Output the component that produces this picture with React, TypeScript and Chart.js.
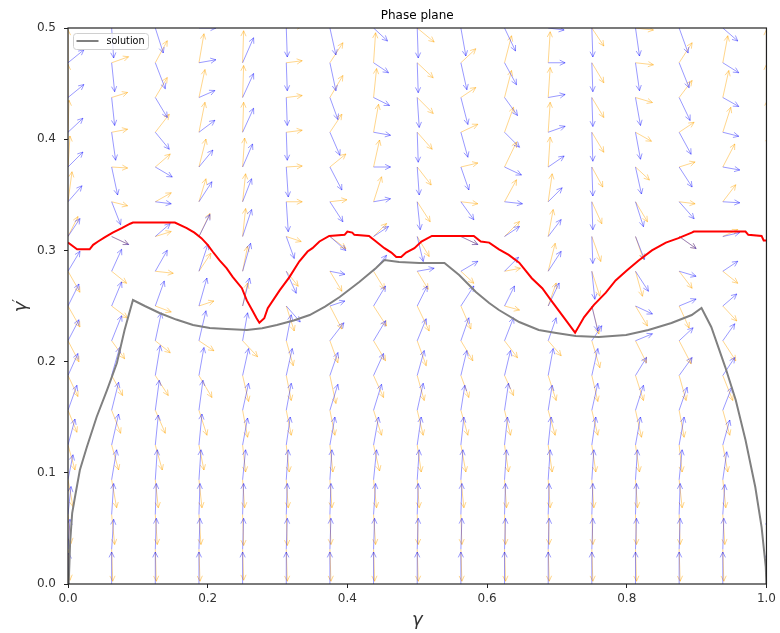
import React, { useEffect, useRef } from "react";
import { Chart, registerables } from "chart.js";
Chart.register(...registerables);

const xTicks = [0, 0.2, 0.4, 0.6, 0.8, 1.0];
const yTicks = [0, 0.1, 0.2, 0.3, 0.4, 0.5];

const gridGamma = [0, 0.0625, 0.125, 0.1875, 0.25, 0.3125, 0.375, 0.4375, 0.5, 0.5625, 0.625, 0.6875, 0.75, 0.8125, 0.875, 0.9375, 1];
const gridRate = [0, 0.03125, 0.0625, 0.09375, 0.125, 0.15625, 0.1875, 0.21875, 0.25, 0.28125, 0.3125, 0.34375, 0.375, 0.40625, 0.4375, 0.46875, 0.5];

// quiver components per column (pairs u,v for rows bottom->top)
const blueField = [
  [1,31, 2,30, 3,28, 5,25, 7,26, 9,25, 10,22, 11,21, 11,22, 12,20, 12,18, 14,16, 15,15, 15,14, 16,13, 16,13, 16,13],
  [0,32, 2,30, 2,31, 5,30, 7,31, 7,28, 8,28, 10,25, 10,24, 10,22, 17,-8, 9,-23, 6,-28, 4,-28, 3,-28, 3,-29, 2,-30],
  [0,32, 1,31, 1,31, 2,30, 3,30, 4,30, 5,30, 6,28, 9,25, 12,21, 15,13, 16,-2, 17,-10, 14,-17, 12,-20, 10,-26, 8,-25],
  [0,32, 1,31, 1,31, 2,30, 3,31, 4,30, 5,28, 7,30, 8,28, 9,27, 11,22, 13,20, 14,17, 16,12, 16,7, 17,3, 17,0],
  [0,32, 1,31, 1,31, 3,30, 5,27, 6,27, 6,27, 5,28, 7,28, 8,28, 9,27, 9,23, 10,23, 11,24, 11,24, 11,25, 11,25],
  [0,32, 1,31, 1,31, 2,30, 4,28, 5,27, 6,27, 5,26, 14,-16, 10,-22, 8,-22, 2,-30, 2,-30, 1,-28, 1,-28, 1,-28, 1,-29],
  [0,32, 1,31, 1,31, 2,30, 5,28, 8,26, 8,23, 14,18, 15,5, 15,-3, 16,-14, 13,-20, 12,-23, 10,-23, 8,-22, 6,-28, 6,-27],
  [0,32, 1,31, 2,31, 3,30, 5,28, 8,26, 10,22, 12,20, 12,20, 13,16, 15,10, 17,3, 17,0, 17,-3, 16,-8, 15,-10, 14,-13],
  [0,32, 1,31, 1,31, 2,30, 4,28, 6,27, 7,25, 9,22, 10,20, 17,3, 6,-25, 3,-28, 2,-28, 1,-30, 2,-30, 1,-30, 1,-30],
  [0,32, 1,31, 1,31, 2,30, 3,28, 4,25, 6,25, 8,23, 13,20, 17,10, 17,-8, 13,-18, 8,-23, 7,-25, 7,-27, 6,-27, 5,-28],
  [0,32, 1,31, 1,31, 2,30, 3,28, 4,27, 6,25, 9,23, 10,20, 14,14, 15,10, 18,-2, 17,-8, 15,-15, 13,-18, 12,-22, 11,-23],
  [0,32, 1,31, 1,31, 2,30, 3,28, 4,25, 5,27, 8,23, 11,23, 13,20, 13,17, 14,14, 16,11, 17,6, 17,3, 17,0, 16,-2],
  [0,32, 1,31, 1,31, 2,30, 4,28, 6,27, 6,27, 10,15, 6,-25, 3,-28, 1,-27, 1,-28, 1,-29, 1,-29, 1,-29, 1,-29, 1,-29],
  [0,32, 1,31, 1,31, 2,30, 5,28, 8,25, 11,18, 17,7, 17,-8, 13,-20, 9,-23, 8,-25, 6,-27, 5,-27, 5,-28, 4,-28, 4,-28],
  [0,32, 1,31, 1,31, 3,30, 5,28, 8,23, 13,18, 14,13, 17,7, 17,-5, 17,-12, 15,-17, 13,-20, 12,-22, 11,-23, 10,-25, 9,-25],
  [0,32, 1,31, 2,30, 4,28, 7,25, 9,23, 12,18, 12,17, 14,12, 15,10, 17,4, 17,-1, 17,-3, 16,-4, 16,-9, 16,-10, 15,-13],
  [1,31, 2,30, 3,28, 5,25, 7,26, 9,25, 10,22, 11,21, 11,22, 12,20, 12,18, 14,16, 15,15, 15,14, 16,13, 16,13, 16,13],
];

const orangeField = [
  [0,-32, 2,-31, 3,-29, 5,-27, 7,-25, 9,-22, 10,-21, 11,-21, 12,-21, 12,-21, 10,20, 4,30, 2,31, 1,32, 0,33, 0,33, 0,33],
  [0,-32, 1,-32, 3,-30, 5,-28, 7,-25, 9,-23, 11,-20, 13,-18, 16,-12, 15,-12, 17,-8, 16,-4, 16,-1, 16,3, 16,5, 17,6, 17,6],
  [0,-32, 1,-32, 2,-30, 3,-28, 7,-25, 10,-23, 13,-20, 15,-12, 16,-6, 18,-2, 16,5, 16,9, 15,13, 14,18, 12,20, 12,22, 11,22],
  [0,-32, 1,-32, 2,-30, 3,-28, 5,-25, 8,-25, 13,-22, 15,-10, 15,5, 12,18, 11,23, 7,23, 7,28, 6,30, 6,28, 5,29, 5,29],
  [0,-32, 1,-31, 1,-31, 2,-28, 3,-27, 5,-27, 6,-26, 15,-16, 5,23, 5,25, 3,28, 3,28, 2,29, 1,30, 1,32, 1,32, 1,32],
  [0,-32, 1,-32, 1,-31, 2,-28, 3,-27, 5,-25, 5,-25, 7,-25, 8,-25, 12,-15, 15,-5, 16,0, 16,1, 16,2, 16,2, 16,2, 16,2],
  [0,-32, 1,-32, 1,-30, 2,-28, 3,-27, 5,-25, 6,-28, 8,-22, 12,-23, 12,-20, 16,-12, 17,2, 16,13, 12,18, 13,22, 13,20, 13,20],
  [0,-32, 1,-32, 2,-30, 3,-28, 6,-26, 8,-25, 10,-22, 12,-20, 13,-20, 11,-18, 13,13, 8,25, 6,27, 5,28, 3,29, 2,30, 2,30],
  [0,-32, 1,-32, 1,-30, 2,-28, 4,-27, 6,-25, 7,-25, 9,-25, 12,-25, 11,-18, 12,-20, 13,-20, 14,-18, 15,-17, 16,-16, 16,-15, 17,-14],
  [0,-32, 1,-32, 1,-30, 3,-28, 5,-27, 7,-25, 8,-22, 12,-20, 10,-23, 13,-12, 17,-8, 17,-2, 17,4, 17,8, 15,10, 15,14, 15,14],
  [0,-32, 1,-32, 1,-30, 2,-28, 4,-27, 6,-25, 9,-20, 13,-17, 15,-4, 16,3, 15,15, 12,22, 12,25, 9,25, 7,27, 7,27, 7,27],
  [0,-32, 1,-32, 1,-30, 2,-28, 4,-27, 7,-25, 8,-25, 13,-15, 8,23, 7,28, 5,27, 4,28, 2,30, 2,30, 2,30, 2,31, 2,31],
  [0,-32, 1,-32, 1,-30, 2,-28, 4,-27, 6,-25, 6,-26, 8,-27, 7,-28, 8,-25, 9,-25, 10,-22, 11,-20, 12,-20, 12,-20, 12,-20, 12,-18],
  [0,-32, 1,-32, 1,-30, 2,-28, 4,-27, 6,-27, 8,-25, 11,-22, 12,-20, 7,-25, 8,-23, 12,-20, 14,-13, 16,-9, 17,-5, 18,-2, 18,-2],
  [0,-32, 1,-32, 1,-30, 3,-28, 3,-27, 5,-27, 7,-25, 12,-23, 10,-22, 13,-17, 17,-12, 16,-2, 16,5, 15,10, 13,17, 13,20, 13,20],
  [0,-32, 1,-32, 2,-30, 3,-28, 5,-27, 7,-25, 10,-25, 13,-20, 14,-15, 15,-12, 15,7, 13,17, 12,23, 8,25, 6,27, 5,27, 5,27],
  [0,-32, 2,-31, 3,-29, 5,-27, 7,-25, 9,-22, 10,-21, 11,-21, 12,-21, 12,-21, 10,20, 4,30, 2,31, 1,32, 0,33, 0,33, 0,33],
];

// field units -> data units
const QUIVER_UX = 1 / 700;
const QUIVER_UY = 0.5 / 556;

const redCurve: [number, number][] = [
  [0.000,0.307],[0.013,0.301],[0.031,0.301],[0.036,0.305],[0.043,0.308],[0.053,0.312],[0.064,0.316],[0.077,0.320],
  [0.089,0.324],[0.093,0.325],[0.153,0.325],[0.170,0.320],[0.181,0.316],[0.191,0.311],[0.200,0.305],[0.207,0.299],
  [0.217,0.291],[0.227,0.284],[0.236,0.276],[0.249,0.266],[0.256,0.255],[0.264,0.246],[0.270,0.239],[0.274,0.235],
  [0.281,0.239],[0.286,0.248],[0.303,0.264],[0.317,0.276],[0.331,0.290],[0.343,0.299],[0.350,0.302],[0.360,0.308],
  [0.374,0.313],[0.396,0.314],[0.400,0.317],[0.407,0.316],[0.410,0.314],[0.431,0.313],[0.441,0.308],[0.453,0.302],
  [0.463,0.298],[0.470,0.294],[0.477,0.294],[0.484,0.298],[0.496,0.302],[0.506,0.308],[0.521,0.313],[0.581,0.313],
  [0.591,0.308],[0.603,0.307],[0.617,0.301],[0.631,0.296],[0.646,0.289],[0.664,0.275],[0.679,0.266],[0.693,0.254],
  [0.713,0.237],[0.726,0.226],[0.739,0.240],[0.753,0.251],[0.770,0.262],[0.784,0.273],[0.800,0.282],[0.817,0.291],
  [0.836,0.300],[0.856,0.307],[0.874,0.311],[0.893,0.316],[0.896,0.317],[0.970,0.317],[0.974,0.314],[0.993,0.313],
  [0.996,0.309],[1.000,0.309],
];

const solutionCurve: [number, number][] = [
  [0,0],[0.001,0.0009],[0.002,0.018],[0.003,0.0369],[0.006,0.0638],[0.010,0.0782],[0.017,0.1025],[0.027,0.1232],
  [0.041,0.1502],[0.056,0.1745],[0.070,0.1987],[0.081,0.2284],[0.093,0.2554],
  [0.110,0.2500],[0.131,0.2437],[0.155,0.2378],[0.179,0.2329],[0.203,0.2302],[0.227,0.2293],
  [0.256,0.2284],[0.278,0.2300],[0.299,0.2329],[0.323,0.2370],[0.346,0.2419],[0.368,0.2495],[0.389,0.2581],
  [0.417,0.2716],[0.441,0.2842],[0.453,0.2914],
  [0.474,0.2896],[0.503,0.2887],[0.539,0.2887],[0.56,0.2779],[0.584,0.2626],[0.603,0.2527],[0.617,0.2464],
  [0.646,0.2356],[0.674,0.2284],[0.699,0.2257],[0.727,0.223],[0.76,0.2221],[0.799,0.2239],[0.831,0.2284],
  [0.864,0.2347],[0.893,0.2419],[0.907,0.2482],[0.921,0.2311],[0.941,0.1951],[0.956,0.1655],[0.97,0.1295],
  [0.984,0.0872],[0.993,0.0513],[0.999,0.0153],[1,0],
];

const titleText = "Phase plane";
const xLabel = "γ";
const yLabel = "γ";
const yLabelPrime = "′";
const legendLabel = "solution";

const FONT = '"DejaVu Sans", "Liberation Sans", sans-serif';

const quiverPlugin = {
  id: "quiver",
  beforeDatasetsDraw(chart: any) {
    const { ctx, chartArea: a, scales } = chart;
    const xs = scales.x, ys = scales.y;
    ctx.save();
    ctx.beginPath();
    ctx.rect(a.left, a.top, a.right - a.left, a.bottom - a.top);
    ctx.clip();
    const drawField = (field: number[][], color: string) => {
      ctx.strokeStyle = color;
      ctx.lineWidth = 1;
      for (let i = 0; i < gridGamma.length; i++) {
        for (let j = 0; j < gridRate.length; j++) {
          const u = field[i][2 * j], v = field[i][2 * j + 1];
          const x0 = xs.getPixelForValue(gridGamma[i]);
          const y0 = ys.getPixelForValue(gridRate[j]);
          const x1 = xs.getPixelForValue(gridGamma[i] + u * QUIVER_UX);
          const y1 = ys.getPixelForValue(gridRate[j] + v * QUIVER_UY);
          const ang = Math.atan2(y1 - y0, x1 - x0);
          const h = 6, w = 0.45;
          ctx.beginPath();
          ctx.moveTo(x0, y0);
          ctx.lineTo(x1, y1);
          ctx.moveTo(x1 - h * Math.cos(ang - w), y1 - h * Math.sin(ang - w));
          ctx.lineTo(x1, y1);
          ctx.lineTo(x1 - h * Math.cos(ang + w), y1 - h * Math.sin(ang + w));
          ctx.stroke();
        }
      }
    };
    drawField(orangeField, "rgba(255,165,0,0.45)");
    drawField(blueField, "rgba(0,0,255,0.4)");
    ctx.restore();
  },
  afterDraw(chart: any) {
    const { ctx, chartArea: a } = chart;
    ctx.save();
    // frame
    ctx.strokeStyle = "#222";
    ctx.lineWidth = 1.2;
    ctx.strokeRect(a.left, a.top, a.right - a.left, a.bottom - a.top);
    // title
    ctx.fillStyle = "#000";
    ctx.font = `12px ${FONT}`;
    ctx.textAlign = "center";
    ctx.textBaseline = "middle";
    ctx.fillText(titleText, (a.left + a.right) / 2, 16);
    // axis labels
    ctx.font = `italic 18px ${FONT}`;
    ctx.fillStyle = "#333";
    ctx.fillText(xLabel, (a.left + a.right) / 2, 620);
    ctx.save();
    ctx.translate(21, 307);
    ctx.rotate(-Math.PI / 2);
    ctx.textAlign = "center";
    ctx.fillText(yLabel, 0, 0);
    ctx.font = `14px ${FONT}`;
    ctx.textAlign = "left";
    ctx.fillText(yLabelPrime, 5, -3);
    ctx.restore();
    // legend
    const lx = a.left + 5.5, ly = a.top + 5.5, lw = 75, lh = 16;
    ctx.fillStyle = "rgba(255,255,255,0.8)";
    ctx.strokeStyle = "#d0d0d0";
    ctx.lineWidth = 1;
    ctx.beginPath();
    (ctx as any).roundRect(lx, ly, lw, lh, 3);
    ctx.fill();
    ctx.stroke();
    ctx.strokeStyle = "#808080";
    ctx.lineWidth = 2;
    ctx.beginPath();
    ctx.moveTo(lx + 3, ly + 7.5);
    ctx.lineTo(lx + 25, ly + 7.5);
    ctx.stroke();
    ctx.fillStyle = "#000";
    ctx.font = `9.6px ${FONT}`;
    ctx.textAlign = "left";
    ctx.textBaseline = "middle";
    ctx.fillText(legendLabel, lx + 33, ly + 8);
    ctx.restore();
  },
};

export default function App() {
  const ref = useRef<HTMLCanvasElement>(null);
  useEffect(() => {
    if (!ref.current) return;
    const chart = new Chart(ref.current, {
      type: "scatter",
      data: {
        datasets: [
          {
            label: legendLabel,
            data: solutionCurve.map(([x, y]) => ({ x, y })),
            showLine: true,
            borderColor: "#808080",
            borderWidth: 2,
            pointRadius: 0,
            tension: 0,
          },
          {
            label: "boundary",
            data: redCurve.map(([x, y]) => ({ x, y })),
            showLine: true,
            borderColor: "#ff0000",
            borderWidth: 2,
            pointRadius: 0,
            tension: 0,
          },
        ],
      },
      options: {
        responsive: false,
        animation: false,
        devicePixelRatio: 1,
        layout: { padding: { top: 28, right: 12, left: 0, bottom: 0 } },
        plugins: { legend: { display: false }, tooltip: { enabled: false }, title: { display: false } },
        scales: {
          x: {
            type: "linear",
            min: 0,
            max: 1,
            afterBuildTicks: (axis: any) => { axis.ticks = xTicks.map((v) => ({ value: v })); },
            afterFit: (axis: any) => { axis.height = 49; },
            grid: { drawOnChartArea: false, drawTicks: true, tickLength: 4, color: "#222" },
            border: { display: false },
            ticks: {
              padding: 4,
              color: "#333",
              font: { family: FONT, size: 12 },
              callback: (v: any) => Number(v).toFixed(1),
              maxRotation: 0,
            },
          },
          y: {
            type: "linear",
            min: 0,
            max: 0.5,
            afterBuildTicks: (axis: any) => { axis.ticks = yTicks.map((v) => ({ value: v })); },
            afterFit: (axis: any) => { axis.width = 68; },
            grid: { drawOnChartArea: false, drawTicks: true, tickLength: 4, color: "#222" },
            border: { display: false },
            ticks: {
              padding: 8,
              color: "#333",
              font: { family: FONT, size: 12 },
              callback: (v: any) => Number(v).toFixed(1),
            },
          },
        },
      },
      plugins: [quiverPlugin],
    } as any);
    return () => chart.destroy();
  }, []);
  return (
    <div style={{ position: "fixed", left: 0, top: 0, width: 780, height: 633, background: "#fff" }}>
      <canvas ref={ref} width={780} height={633} style={{ width: 780, height: 633 }} />
    </div>
  );
}
